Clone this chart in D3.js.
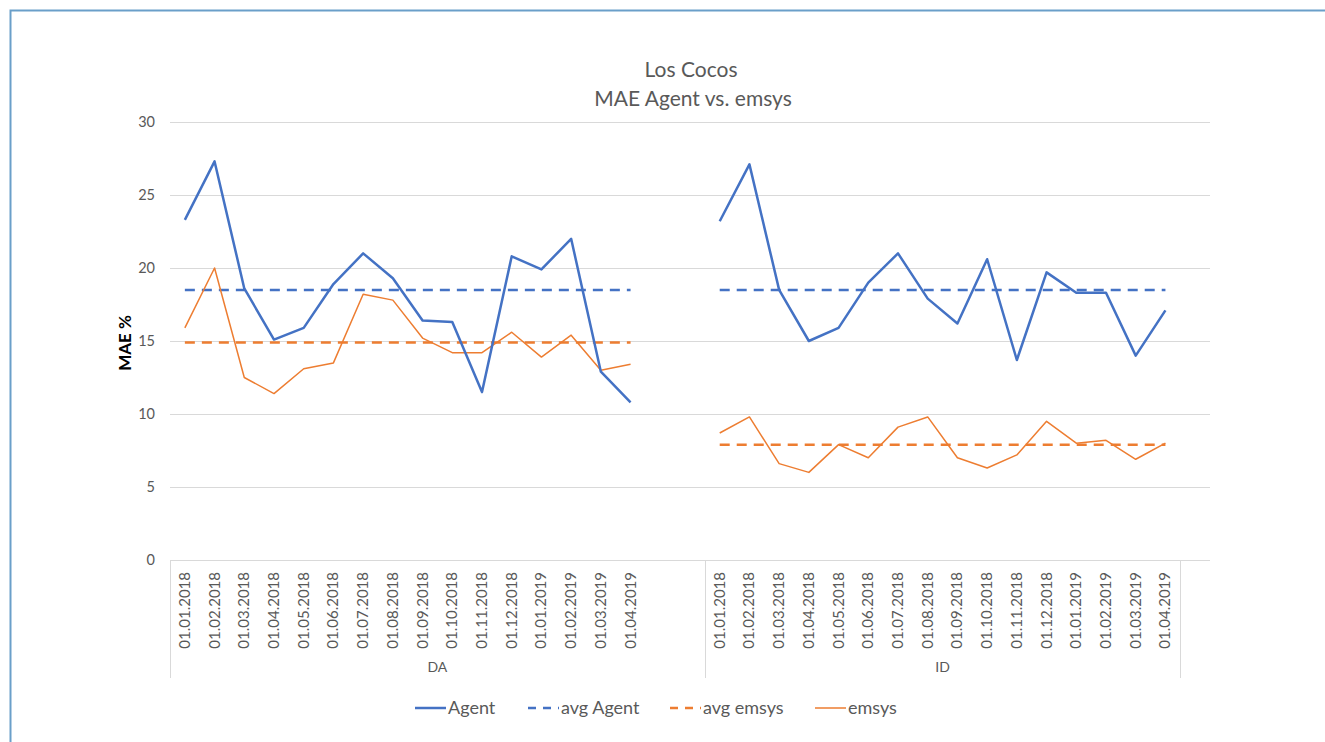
<!DOCTYPE html>
<html><head><meta charset="utf-8">
<script src="https://cdn.jsdelivr.net/npm/d3@7"></script>
<style>body{margin:0;background:#fff}svg{display:block}text{font-family:Lato,"Open Sans",sans-serif}</style>
</head><body>
<svg id="c" width="1325" height="742"></svg>
<script>
const dates = ["01.01.2018","01.02.2018","01.03.2018","01.04.2018","01.05.2018","01.06.2018","01.07.2018","01.08.2018","01.09.2018","01.10.2018","01.11.2018","01.12.2018","01.01.2019","01.02.2019","01.03.2019","01.04.2019"];
const groups = ["DA","ID"];
const agentDA = [23.3,27.3,18.6,15.1,15.9,18.9,21.0,19.3,16.4,16.3,11.5,20.8,19.9,22.0,12.9,10.8];
const emsysDA = [15.9,20.0,12.5,11.4,13.1,13.5,18.2,17.8,15.2,14.2,14.2,15.6,13.9,15.4,13.0,13.4];
const agentID = [23.2,27.1,18.5,15.0,15.9,19.0,21.0,17.9,16.2,20.6,13.7,19.7,18.3,18.3,14.0,17.1];
const emsysID = [8.7,9.8,6.6,6.0,7.9,7.0,9.1,9.8,7.0,6.3,7.2,9.5,8.0,8.2,6.9,8.0];
const avgAgent = [18.5,18.5];
const avgEmsys = [14.9,7.9];
const yTicks = [0,5,10,15,20,25,30];
const legendItems = ["Agent","avg Agent","avg emsys","emsys"];

const svg = d3.select("#c");
const blue = "#4472C4", orange = "#ED7D31", gray = "#595959", grid = "#d9d9d9";

// frame
svg.append("path").attr("d","M10.5,742 V10.5 H1325").attr("fill","none").attr("stroke","#6a9fc9").attr("stroke-width",2);

// category slots: 16 DA + 2 blank, 16 ID + 1 blank
const slots = [];
dates.forEach((d,i)=>slots.push({g:0,i,label:d}));
slots.push({g:0,i:-1,label:""},{g:0,i:-2,label:""});
dates.forEach((d,i)=>slots.push({g:1,i,label:d}));
slots.push({g:2,i:-1,label:""});
const x = d3.scaleBand().domain(d3.range(slots.length)).range([170,1210]).padding(0);
const y = d3.scaleLinear().domain([0,30]).range([560,122]);
const xc = k => x(k) + x.bandwidth()/2;
const slotIndex = (g,i) => slots.findIndex(s=>s.g===g && s.i===i);

// gridlines + y axis
const ya = svg.append("g").attr("transform","translate(170,0)")
  .call(d3.axisLeft(y).tickValues(yTicks).tickSize(-1040).tickPadding(15));
ya.select(".domain").remove();
ya.selectAll(".tick line").attr("stroke",grid).attr("stroke-width",1);
ya.selectAll(".tick text").attr("fill",gray).attr("font-size",14.5).attr("font-family","Lato,'Open Sans',sans-serif");

svg.append("text").attr("transform","translate(131,343) rotate(-90)").attr("text-anchor","middle")
  .attr("font-size",17).attr("font-weight","bold").attr("fill","#000").text("MAE %");

// category axis
svg.append("line").attr("x1",170).attr("x2",1210).attr("y1",560.5).attr("y2",560.5).attr("stroke",grid);
const bounds = [0, slotIndex(1,0), slotIndex(2,-1)];
bounds.forEach(k=>{
  const xx = Math.round(x(k))+0.5;
  svg.append("line").attr("x1",xx).attr("x2",xx).attr("y1",560).attr("y2",678).attr("stroke",grid);
});
slots.forEach((s,k)=>{
  if(!s.label) return;
  svg.append("text").attr("transform",`translate(${xc(k)+5},572) rotate(-90)`)
    .attr("text-anchor","end").attr("font-size",15).attr("fill",gray).text(s.label);
});
groups.forEach((g,gi)=>{
  const a = x(bounds[gi]), b = x(bounds[gi+1]);
  svg.append("text").attr("x",(a+b)/2).attr("y",672).attr("text-anchor","middle")
    .attr("font-size",14).attr("fill",gray).text(g);
});

// series
const line = d3.line().x(d=>xc(d[0])).y(d=>y(d[1]));
function pts(g, vals){ return vals.map((v,i)=>[slotIndex(g,i),v]); }
[[0,agentDA,emsysDA],[1,agentID,emsysID]].forEach(([g,ag,em])=>{
  const n = dates.length;
  svg.append("path").datum([[slotIndex(g,0),avgAgent[g]],[slotIndex(g,n-1),avgAgent[g]]]).attr("d",line)
    .attr("fill","none").attr("stroke",blue).attr("stroke-width",2.5).attr("stroke-dasharray","10,7");
  svg.append("path").datum([[slotIndex(g,0),avgEmsys[g]],[slotIndex(g,n-1),avgEmsys[g]]]).attr("d",line)
    .attr("fill","none").attr("stroke",orange).attr("stroke-width",2.5).attr("stroke-dasharray","10,7");
  svg.append("path").datum(pts(g,em)).attr("d",line).attr("fill","none").attr("stroke",orange)
    .attr("stroke-width",1.5).attr("stroke-linejoin","round");
  svg.append("path").datum(pts(g,ag)).attr("d",line).attr("fill","none").attr("stroke",blue)
    .attr("stroke-width",2.5).attr("stroke-linejoin","round");
});

// title
svg.append("text").attr("x",691).attr("y",77).attr("text-anchor","middle").attr("font-size",21).attr("fill",gray).text("Los Cocos");
svg.append("text").attr("x",693).attr("y",106).attr("text-anchor","middle").attr("font-size",21).attr("fill",gray).text("MAE Agent vs. emsys");

// legend
const lx = [415,528,670,815];
const lstyle = [[blue,2.5,null],[blue,2.5,"8,7"],[orange,2.5,"8,7"],[orange,1.5,null]];
legendItems.forEach((t,i)=>{
  const [c,w,da] = lstyle[i];
  svg.append("line").attr("x1",lx[i]).attr("x2",lx[i]+31).attr("y1",708).attr("y2",708)
    .attr("stroke",c).attr("stroke-width",w).attr("stroke-dasharray",da);
  svg.append("text").attr("x",lx[i]+33).attr("y",714).attr("font-size",18).attr("fill",gray).text(t);
});
</script>
</body></html>
